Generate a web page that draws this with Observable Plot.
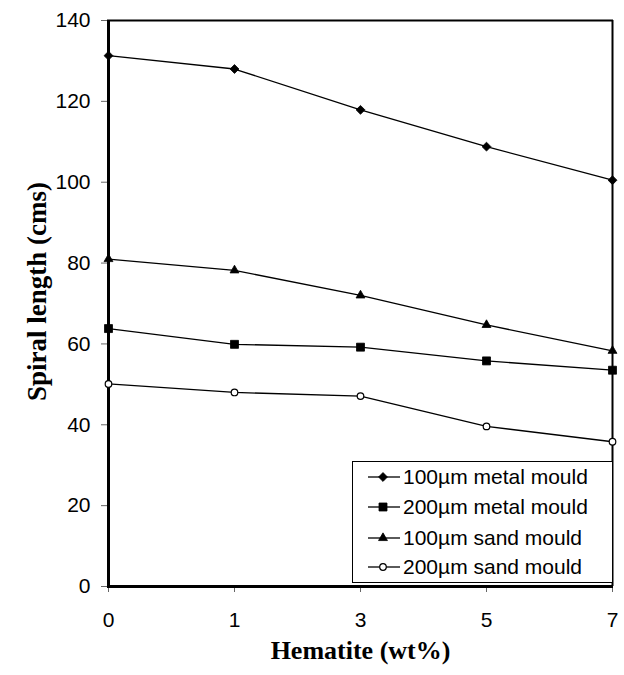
<!DOCTYPE html>
<html>
<head>
<meta charset="utf-8">
<script src="https://cdn.jsdelivr.net/npm/d3@7"></script>
<script src="https://cdn.jsdelivr.net/npm/@observablehq/plot@0.6"></script>
<style>
  html, body { margin: 0; padding: 0; background: #fff; }
  #wrap { position: relative; width: 624px; height: 675px; }
  #legend { position: absolute; left: 352px; top: 461px; }
</style>
</head>
<body>
<div id="wrap"></div>
<script>
// ---- data ----
const hematite = ["0", "1", "3", "5", "7"];
const metal100 = [131.3, 128.0, 117.9, 108.8, 100.5];
const metal200 = [63.8, 59.9, 59.2, 55.8, 53.5];
const sand100 = [81.0, 78.2, 72.0, 64.7, 58.3];
const sand200 = [50.1, 48.0, 47.1, 39.6, 35.8];
const seriesNames = ["100µm metal mould", "200µm metal mould", "100µm sand mould", "200µm sand mould"];
const yTicks = [0, 20, 40, 60, 80, 100, 120, 140];
const xLabel = "Hematite (wt%)";
const yLabel = "Spiral length (cms)";

const seriesValues = [metal100, metal200, sand100, sand200];
const symbols = ["diamond2", "square", "triangle", "circle"];
const radii = [4, 4.5, 3.3, 3.3];
const fills = ["black", "black", "black", "white"];

const rows = [];
seriesValues.forEach((vals, s) => vals.forEach((v, i) => rows.push({x: hematite[i], y: v, series: seriesNames[s]})));

const dotMarks = seriesNames.map((name, s) =>
  Plot.dot(rows.filter(d => d.series === name), {
    x: "x", y: "y", symbol: symbols[s], r: radii[s],
    fill: fills[s], stroke: "black", strokeWidth: s === 3 ? 1.2 : 0.8
  })
);

const chart = Plot.plot({
  width: 624, height: 675,
  marginTop: 20, marginBottom: 89, marginLeft: 107, marginRight: 11,
  x: {type: "point", domain: hematite, padding: 0},
  y: {domain: [0, 140]},
  style: {fontFamily: "'Liberation Sans', Arial, sans-serif", fontSize: "21px", color: "black", background: "white"},
  marks: [
    Plot.axisY({ticks: yTicks, tickSize: 6, tickPadding: 11, label: null, fontSize: 21, stroke: "#666"}),
    Plot.axisX({tickSize: 6, tickPadding: 20, label: null, fontSize: 21, stroke: "#666"}),
    Plot.line(rows, {x: "x", y: "y", z: "series", stroke: "black", strokeWidth: 1.3}),
    Plot.ruleY([140], {stroke: "black", strokeWidth: 2}),
    Plot.ruleX([hematite[hematite.length - 1]], {stroke: "black", strokeWidth: 2}),
    Plot.ruleX([hematite[0]], {stroke: "black", strokeWidth: 3}),
    Plot.ruleY([0], {stroke: "black", strokeWidth: 3}),
    ...dotMarks,
    Plot.text([xLabel], {frameAnchor: "bottom", dy: 64, lineAnchor: "middle", textAnchor: "middle", fontFamily: "'Liberation Serif', 'Times New Roman', serif", fontWeight: "bold", fontSize: 26}),
    Plot.text([yLabel], {frameAnchor: "left", dx: -70, dy: -12, rotate: -90, lineAnchor: "middle", textAnchor: "middle", fontFamily: "'Liberation Serif', 'Times New Roman', serif", fontWeight: "bold", fontSize: 27})
  ]
});
document.getElementById("wrap").appendChild(chart);

// ---- legend ----
const lw = 261, lh = 122, rowY = [16, 46, 77, 106];
const leg = d3.create("svg").attr("id", "legend").attr("width", lw).attr("height", lh)
  .style("font-family", "'Liberation Sans', Arial, sans-serif");
leg.append("rect").attr("x", 0.5).attr("y", 0.5).attr("width", lw - 1).attr("height", lh - 1)
  .attr("fill", "white").attr("stroke", "black").attr("stroke-width", 1);
const symMap = {diamond2: d3.symbolDiamond2, square: d3.symbolSquare, triangle: d3.symbolTriangle, circle: d3.symbolCircle};
seriesNames.forEach((name, s) => {
  const g = leg.append("g").attr("transform", `translate(0,${rowY[s]})`);
  g.append("line").attr("x1", 16).attr("x2", 48).attr("stroke", "black").attr("stroke-width", 1.3);
  g.append("path").attr("transform", "translate(31,0)")
    .attr("d", d3.symbol(symMap[symbols[s]], Math.PI * radii[s] * radii[s])())
    .attr("fill", fills[s]).attr("stroke", "black").attr("stroke-width", s === 3 ? 1.2 : 0.8);
  g.append("text").attr("x", 51).attr("dy", "0.35em").attr("font-size", 21).attr("fill", "black").text(name);
});
document.getElementById("wrap").appendChild(leg.node());
</script>
</body>
</html>
